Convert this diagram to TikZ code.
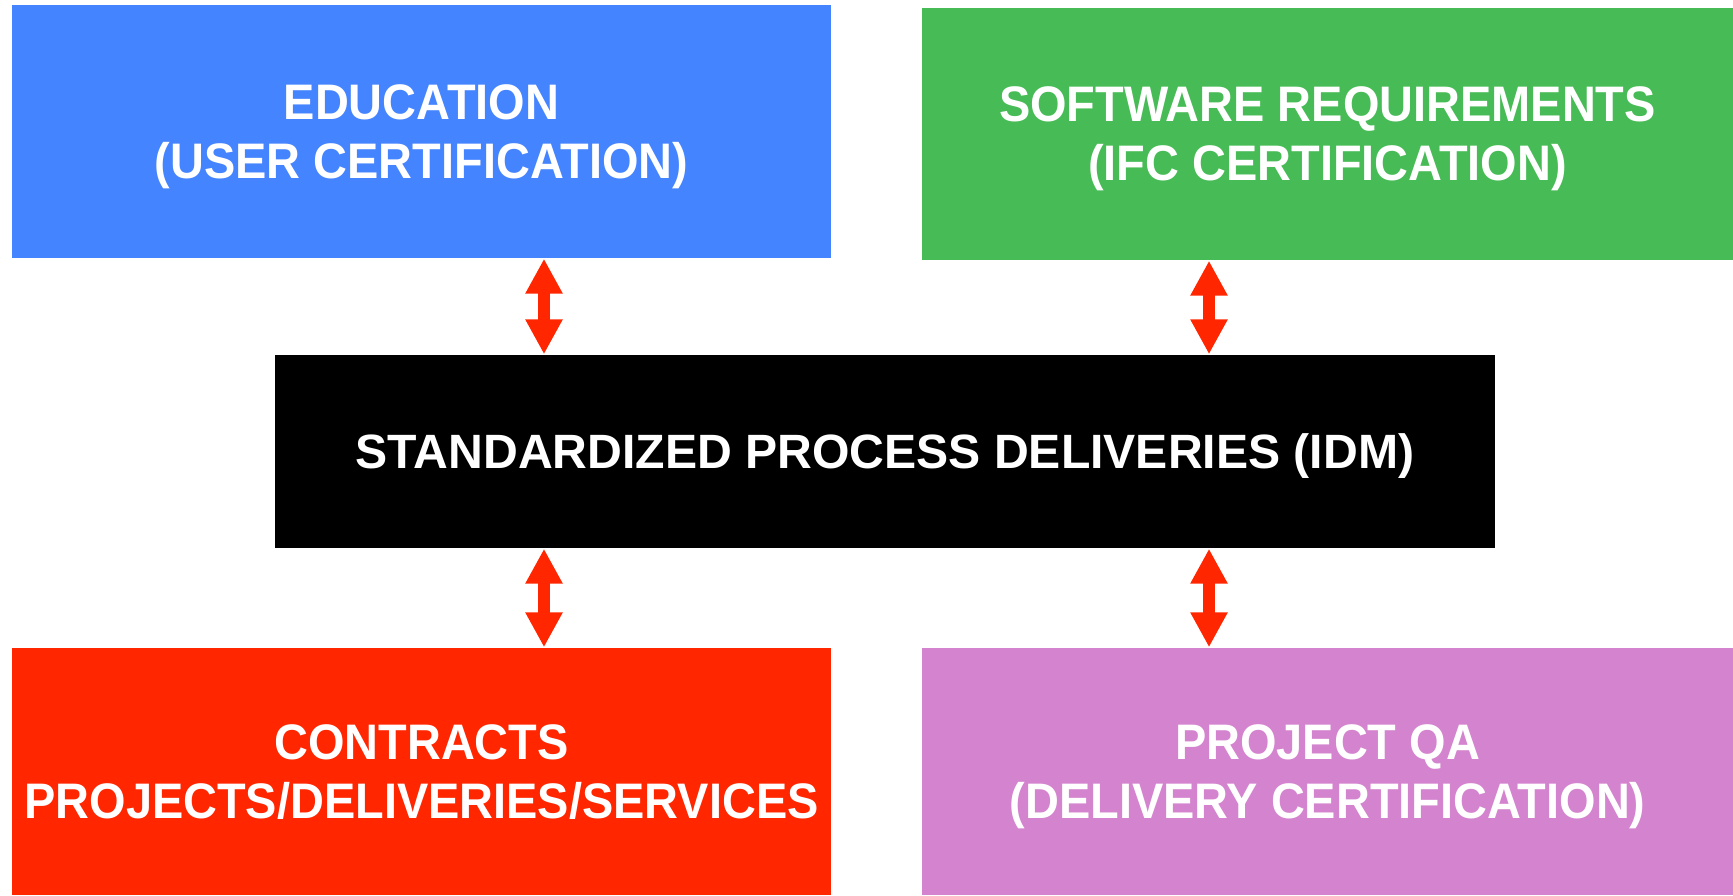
\documentclass[tikz,border=0pt]{standalone}
\usepackage{fontspec}
\setmainfont{Liberation Sans}
\newfontfamily\narrowsans[FakeStretch=0.94]{Liberation Sans}
\usetikzlibrary{arrows.meta}

\begin{document}
\begin{tikzpicture}[>={Triangle[width=3.5mm,length=3.5mm]}]

\definecolor{edublue}{RGB}{69, 132, 255}
\definecolor{swgreen}{RGB}{71, 187, 85}
\definecolor{ctred}{RGB}{255, 38, 0}
\definecolor{qapurple}{RGB}{212, 131, 206}

% Canvas
\useasboundingbox (0,0) rectangle (17.33,8.95);

\tikzset{
    area block/.style={
        fill=#1, draw=none, rectangle, inner sep=0pt,
        text=white, align=center, text depth=0pt,
        font=\narrowsans\fontsize{14.2}{16.8}\selectfont\bfseries
    },
    link/.style={
        <->, draw=ctred, line width=1.2mm
    }
}

% OUTER BLOCKS
\node[area block=edublue, minimum width=8.19cm, minimum height=2.53cm] (EDU) at (4.215, 7.635) {EDUCATION\\(USER CERTIFICATION)};
\node[area block=swgreen, minimum width=8.11cm, minimum height=2.52cm] (SW) at (13.275, 7.61) {SOFTWARE REQUIREMENTS\\(IFC CERTIFICATION)};
\node[area block=ctred, minimum width=8.19cm, minimum height=2.47cm] (CT) at (4.215, 1.235) {CONTRACTS\\PROJECTS/DELIVERIES/SERVICES};
\node[area block=qapurple, minimum width=8.11cm, minimum height=2.47cm] (QA) at (13.275, 1.235) {PROJECT QA\\(DELIVERY CERTIFICATION)};

% CENTRE BLOCK
\node[area block=black, minimum width=12.2cm, minimum height=1.93cm,
      font=\fontsize{13.7}{16}\selectfont\bfseries] (IDM) at (8.85, 4.435) {STANDARDIZED PROCESS DELIVERIES (IDM)};

% --- LINKS ---
\coordinate (colL) at (5.44, 0);
\coordinate (colR) at (12.09, 0);

\draw[link] (EDU.south -| colL) -- (IDM.north -| colL);
\draw[link] (SW.south -| colR) -- (IDM.north -| colR);
\draw[link] (IDM.south -| colL) -- (CT.north -| colL);
\draw[link] (IDM.south -| colR) -- (QA.north -| colR);

\end{tikzpicture}
\end{document}
